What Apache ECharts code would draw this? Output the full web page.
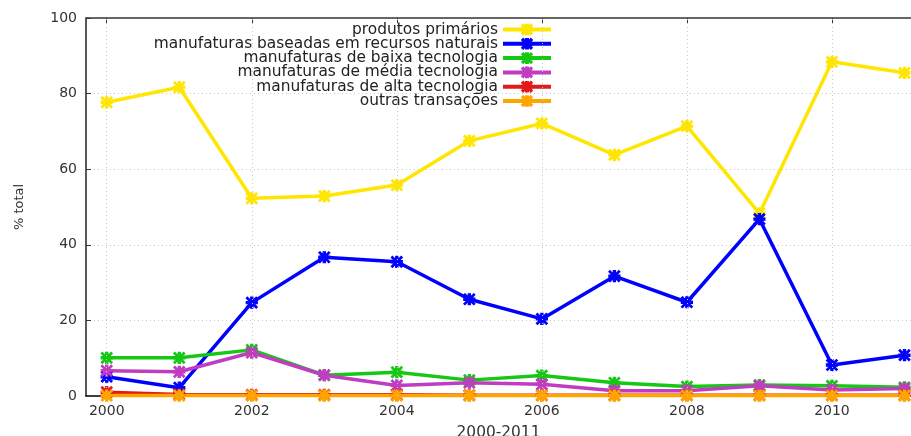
<!DOCTYPE html>
<html>
<head>
<meta charset="utf-8">
<script src="https://cdn.jsdelivr.net/npm/echarts@6/dist/echarts.min.js"></script>
<style>
  html, body { margin: 0; padding: 0; background: #fff; }
  #chart { width: 911px; height: 436px; }
</style>
</head>
<body>
<div id="chart"></div>
<script>
// Anos da série
const years = [2000, 2001, 2002, 2003, 2004, 2005, 2006, 2007, 2008, 2009, 2010, 2011];

// Participação (% do total) por categoria de produto
const produtosPrimarios   = [77.7, 81.7, 52.3, 52.9, 55.8, 67.5, 72.1, 63.8, 71.4, 48.3, 88.4, 85.5];
const recursosNaturais    = [5.1, 2.2, 24.7, 36.7, 35.5, 25.6, 20.4, 31.7, 24.8, 46.8, 8.2, 10.8];
const baixaTecnologia     = [10.1, 10.1, 12.2, 5.5, 6.3, 4.2, 5.4, 3.5, 2.5, 2.9, 2.7, 2.3];
const mediaTecnologia     = [6.7, 6.4, 11.5, 5.5, 2.8, 3.5, 3.1, 1.4, 1.4, 2.7, 1.6, 2.0];
const altaTecnologia      = [1.0, 0.4, 0.3, 0.3, 0.3, 0.2, 0.2, 0.2, 0.2, 0.2, 0.2, 0.2];
const outrasTransacoes    = [0.1, 0.1, 0.1, 0.1, 0.1, 0.1, 0.1, 0.1, 0.1, 0.1, 0.1, 0.1];

// Rótulos dos eixos
const xTicks = [2000, 2002, 2004, 2006, 2008, 2010];

const seriesDefs = [
  { name: 'produtos primários', data: produtosPrimarios, color: '#ffe600' },
  { name: 'manufaturas baseadas em recursos naturais', data: recursosNaturais, color: '#0000ff' },
  { name: 'manufaturas de baixa tecnologia', data: baixaTecnologia, color: '#14c814' },
  { name: 'manufaturas de média tecnologia', data: mediaTecnologia, color: '#c03cc0' },
  { name: 'manufaturas de alta tecnologia', data: altaTecnologia, color: '#e31a1a' },
  { name: 'outras transações', data: outrasTransacoes, color: '#ffa500' }
];

// Marcador em asterisco (X sobreposto a +)
const starSymbol = 'path://M1,0L5,4L9,0L10,1L6,5L10,9L9,10L5,6L1,10L0,9L4,5L0,1Z' +
                   'M4,0L6,0L6,4L10,4L10,6L6,6L6,10L4,10L4,6L0,6L0,4L4,4Z';

const FONT = 'DejaVu Sans';
const TEXT = '#333';
const GRID_LINE = { color: '#c8c8c8', type: [1, 3], width: 1 };

const chart = echarts.init(document.getElementById('chart'), null, { renderer: 'canvas' });

// Uma legenda por série, alinhadas à direita
const legends = seriesDefs.map((s, i) => ({
  data: [s.name],
  orient: 'vertical',
  align: 'right',
  right: 358,
  top: 22 + i * 14.3,
  itemWidth: 48,
  itemHeight: 12,
  padding: 0,
  selectedMode: false,
  lineStyle: { width: 4 },
  textStyle: { fontFamily: FONT, fontSize: 15.4, color: '#222' }
}));

const series = seriesDefs.map(s => ({
  name: s.name,
  type: 'line',
  xAxisIndex: 0,
  data: years.map((y, i) => [y, s.data[i]]),
  symbol: starSymbol,
  symbolSize: 11,
  showSymbol: true,
  itemStyle: { color: s.color, borderColor: s.color, borderWidth: 1.2 },
  lineStyle: { color: s.color, width: 3.5 },
  emphasis: { disabled: true },
  clip: false,
  z: 3
}));

// Linhas de grade verticais nos anos pares
series.push({
  type: 'line',
  data: [],
  silent: true,
  z: 1,
  markLine: {
    symbol: 'none',
    silent: true,
    label: { show: false },
    lineStyle: GRID_LINE,
    data: xTicks.map(x => ({ xAxis: x }))
  }
});

const option = {
  animation: false,
  backgroundColor: '#fff',
  grid: { left: 86, right: 0, top: 18, bottom: 40, outerBoundsMode: 'none', containLabel: false },
  legend: legends,
  xAxis: [
    {
      type: 'value',
      min: 1999.714,
      max: 2011.09,
      name: '2000-2011',
      nameLocation: 'middle',
      nameGap: 29,
      nameTextStyle: { fontFamily: FONT, fontSize: 15.4, color: TEXT },
      axisLine: { show: true, onZero: false, lineStyle: { color: '#000', width: 1.5 } },
      axisTick: { show: true, inside: true, length: 5, customValues: xTicks, lineStyle: { color: '#333' } },
      axisLabel: { customValues: xTicks, fontFamily: FONT, fontSize: 14, color: TEXT, margin: 8,
                   formatter: v => String(v) },
      splitLine: { show: false }
    },
    {
      type: 'value',
      position: 'top',
      min: 1999.714,
      max: 2011.09,
      axisLine: { show: true, onZero: false, lineStyle: { color: '#666', width: 2 } },
      axisTick: { show: true, inside: true, length: 5, customValues: xTicks, lineStyle: { color: '#333' } },
      axisLabel: { show: false },
      splitLine: { show: false }
    }
  ],
  yAxis: {
    type: 'value',
    min: 0,
    max: 100,
    interval: 20,
    name: '% total',
    nameLocation: 'middle',
    nameGap: 60,
    nameRotate: 90,
    nameTextStyle: { fontFamily: FONT, fontSize: 13, color: TEXT },
    axisLine: { show: true, lineStyle: { color: '#222', width: 1.5 } },
    axisTick: { show: true, inside: true, length: 5, lineStyle: { color: '#333' } },
    axisLabel: { fontFamily: FONT, fontSize: 14, color: TEXT, margin: 9 },
    splitLine: { show: true, lineStyle: GRID_LINE }
  },
  series: series
};

chart.setOption(option);
</script>
</body>
</html>
